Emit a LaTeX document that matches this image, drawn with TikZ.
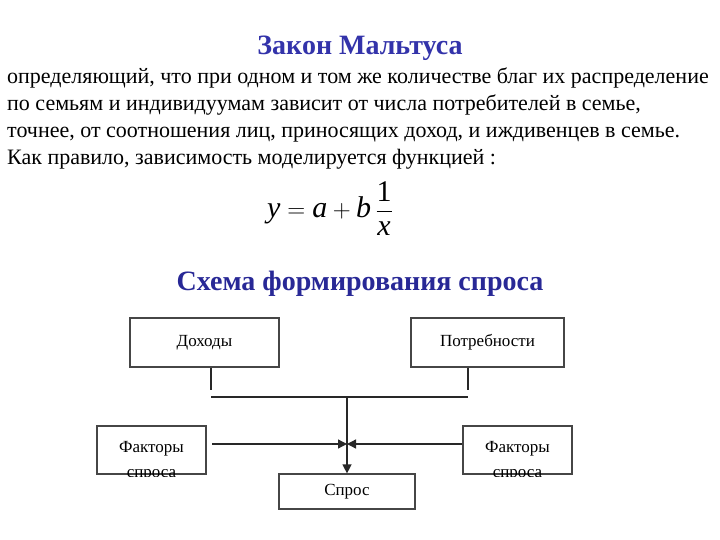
\documentclass[tikz,border=0pt]{standalone}
\usepackage{amsmath}
\usepackage{fontspec}
\setmainfont{Liberation Serif}
\usetikzlibrary{arrows.meta}
\definecolor{titleblue}{RGB}{51,51,170}
\definecolor{schemablue}{RGB}{40,40,150}
\definecolor{linegray}{RGB}{40,40,40}
\definecolor{boxgray}{RGB}{70,70,70}
\tikzset{
  box/.style={draw=boxgray, line width=1.2pt, inner sep=0pt, font=\fontsize{17}{20}\selectfont},
  boxtext/.style={anchor=base, inner sep=0pt, font=\fontsize{17}{20}\selectfont},
  body/.style={anchor=base west, inner sep=0pt, font=\fontsize{22}{26}\selectfont},
  conn/.style={draw=linegray, line width=1.3pt},
  tip/.style={-{Triangle[length=9pt,width=9pt]}}
}
\begin{document}
\begin{tikzpicture}[x=1pt,y=-1pt]
\useasboundingbox (0,0) rectangle (720,540);
% titles
\node[anchor=base, inner sep=0pt, font=\fontsize{28}{32}\selectfont\bfseries, text=titleblue] (title) at (360,55) {Закон Мальтуса};
\node[body] (l1) at (7,84) {определяющий, что при одном и том же количестве благ их распределение};
\node[body] (l2) at (7,111) {по семьям и индивидуумам зависит от числа потребителей в семье,};
\node[body] (l3) at (7,138) {точнее, от соотношения лиц, приносящих доход, и иждивенцев в семье.};
\node[body] (l4) at (7,165) {Как правило, зависимость моделируется функцией :};
\node[anchor=base, inner sep=0pt, font=\fontsize{30}{34}\selectfont] (formula) at (330,218)
  {$\textit{y}=\textit{a}+\textit{b}\,\dfrac{\text{1}}{\textit{x}}$};
\node[anchor=base, inner sep=0pt, font=\fontsize{28}{32}\selectfont\bfseries, text=schemablue] (schema) at (360,290) {Схема формирования спроса};
% boxes
\node[box, minimum width=149pt, minimum height=49pt] (dox) at (204.5,342.5) {Доходы};
\node[box, minimum width=153pt, minimum height=49pt] (potr) at (487.5,342.5) {Потребности};
\node[box, minimum width=136pt, minimum height=35pt] (spros) at (347,491.5) {Спрос};
\node[draw=boxgray, line width=1.2pt, inner sep=0pt, minimum width=109pt, minimum height=48pt] (fl) at (151.5,450) {};
\node[draw=boxgray, line width=1.2pt, inner sep=0pt, minimum width=109pt, minimum height=48pt] (fr) at (517.5,450) {};
\begin{scope}
  \clip (fl.north west) rectangle ([yshift=-2pt]fl.south east);
  \node[boxtext] (fl1) at (151.5,452) {Факторы};
  \node[boxtext] (fl2) at (151.5,477) {спроса};
\end{scope}
\begin{scope}
  \clip (fr.north west) rectangle ([yshift=-2pt]fr.south east);
  \node[boxtext] (fr1) at (517.5,452) {Факторы};
  \node[boxtext] (fr2) at (517.5,477) {спроса};
\end{scope}
% connectors
\coordinate (jl) at (211,390);
\coordinate (jr) at (468,390);
\coordinate (hl) at (211,397);
\coordinate (hr) at (468,397);
\coordinate (hc) at (347,397);
\coordinate (mid) at (347,444);
\coordinate (lstart) at (212,444);
\draw[conn] (dox.south -| jl) -- (jl);
\draw[conn] (potr.south -| jr) -- (jr);
\draw[conn] (hl) -- (hr);
\draw[conn, tip] (hc) -- (spros.north);
\draw[conn, tip] (lstart) -- (mid);
\draw[conn, tip] (fr.west |- mid) -- (mid);
\end{tikzpicture}
\end{document}
